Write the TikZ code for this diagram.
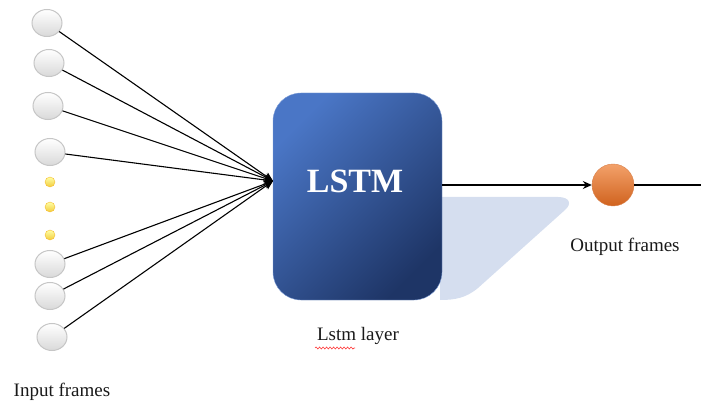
\documentclass[tikz,border=0pt]{standalone}
\usepackage{fontspec}
\setmainfont{Liberation Serif}
\usetikzlibrary{shapes.geometric,arrows.meta,decorations.pathmorphing}
\definecolor{boxlight}{HTML}{4A76C6}
\definecolor{boxdark}{HTML}{1E3566}
\definecolor{shadowblue}{HTML}{D5DEEF}
\definecolor{orangeball}{HTML}{F08A45}
\definecolor{orangedeep}{HTML}{D0621E}
\definecolor{dotyellow}{HTML}{F2CB3A}
\tikzset{
  inball/.style={ellipse, minimum width=30pt, minimum height=27pt, inner sep=0pt,
    draw=gray!45, line width=1pt, top color=white, bottom color=gray!30},
  ydot/.style={circle, minimum size=10pt, inner sep=0pt,
    top color=yellow!35, bottom color=dotyellow, draw=dotyellow!80!orange},
  feed/.style={line width=1.1pt, -{Stealth[length=9pt,width=8pt]}},
  lbl/.style={font=\fontsize{19}{22}\selectfont, text=black!90}
}
\begin{document}
\begin{tikzpicture}[x=1pt,y=-1pt]
\useasboundingbox (0,0) rectangle (701,406);
% perspective shadow behind the LSTM block
\fill[shadowblue] (440,197) -- (558,197) .. controls (570,197) and (572,204) .. (565,210)
  -- (478,288) .. controls (466,298) and (455,300) .. (440,300) -- cycle;
% LSTM block
\node[rounded corners=28pt, minimum width=169pt, minimum height=207pt, inner sep=0pt,
  left color=boxlight, right color=boxdark, shading angle=45, draw=boxlight!70]
  (lstm) at (357.5,196.5) {};
\node[text=white, font=\fontsize{34}{38}\selectfont\bfseries] (lstmtxt) at (355,181) {LSTM};
\coordinate (tip) at (273,181);
% input frames
\node[inball] (i1) at (47,23) {};
\node[inball] (i2) at (49,63) {};
\node[inball] (i3) at (48,106) {};
\node[inball] (i4) at (50,152) {};
\node[ydot] (d1) at (50,182) {};
\node[ydot] (d2) at (50,207) {};
\node[ydot] (d3) at (50,235) {};
\node[inball] (i5) at (50,264) {};
\node[inball] (i6) at (50,296) {};
\node[inball] (i7) at (52,337) {};
\foreach \n in {i1,i2,i3,i4,i5,i6,i7} \draw[feed] (\n) -- (tip);
% output frame
\node[circle, minimum size=42pt, inner sep=0pt, top color=orangeball!80!white,
  bottom color=orangedeep, draw=orangedeep!80] (out) at (613,185) {};
\coordinate (lstmout) at (442,185);
\coordinate (edge) at (710,185);
\draw[line width=1.1pt, -{Stealth[length=9pt,width=8pt]}] (lstmout) -- (out);
\draw[line width=1.1pt, -{Stealth[length=9pt,width=8pt]}] (out) -- (edge);
% labels
\node[lbl] (lout) at (625,247) {Output frames};
\node[lbl] (llayer) at (358,336) {Lstm layer};
\draw[red!80, line width=0.6pt, decorate, decoration={snake, amplitude=1pt, segment length=3.5pt}]
  (315,348) -- (355,348);
\node[lbl] (lin) at (62,392) {Input frames};
\end{tikzpicture}
\end{document}
